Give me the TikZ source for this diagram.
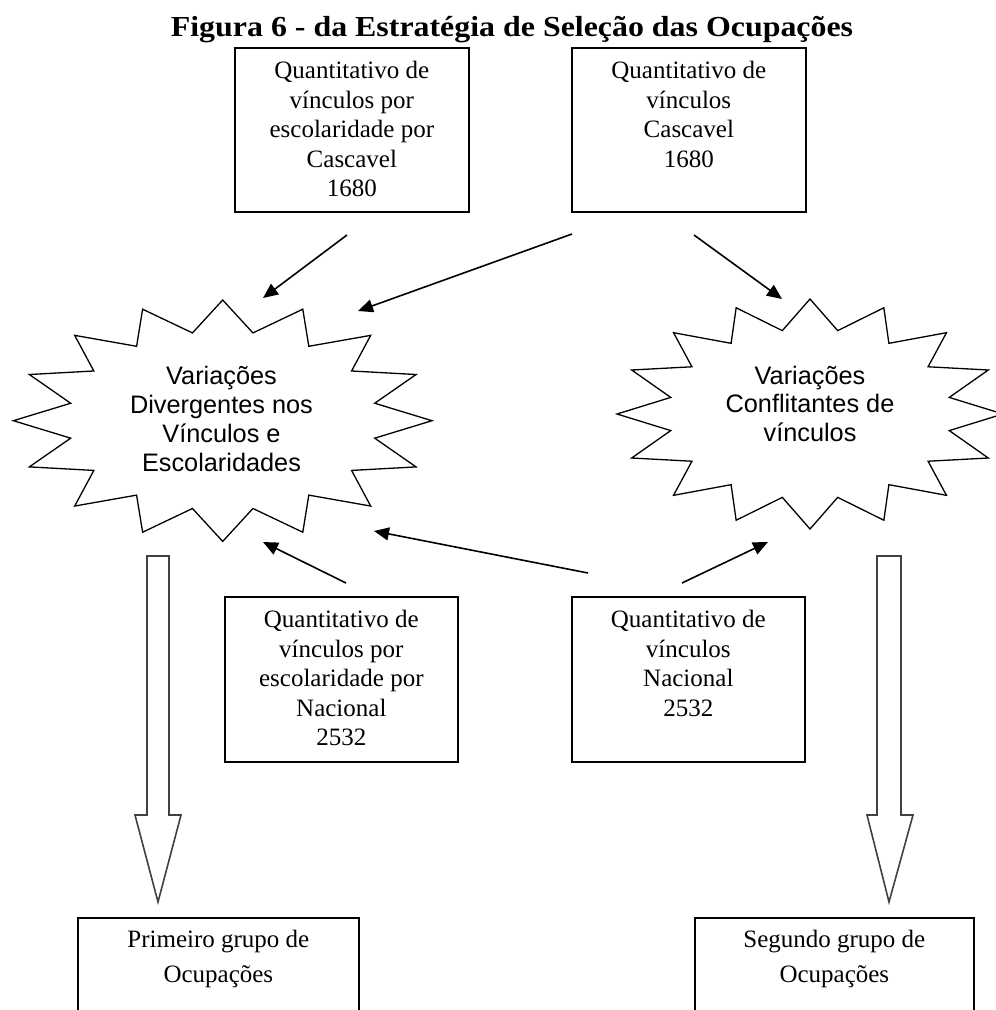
\documentclass[tikz,border=0pt]{standalone}
\usepackage{fontspec}
\usepackage{graphicx}
\setmainfont{Liberation Serif}
\newfontfamily\starfont{Liberation Sans}
\usetikzlibrary{arrows.meta}

\begin{document}
\begin{tikzpicture}[x=1pt,y=-1pt,
  frame/.style={draw, line width=1.7pt, inner sep=0pt, anchor=north west},
  boxtext/.style={anchor=north, align=center, inner sep=0pt, font=\fontsize{25}{29.5}\selectfont},
  grouptext/.style={anchor=north, align=center, inner sep=0pt, font=\fontsize{25}{35}\selectfont},
  startext/.style={anchor=north, align=center, inner sep=0pt, font=\starfont\fontsize{25.3}{28.9}\selectfont},
  starline/.style={line width=1.3pt, line join=miter},
  link/.style={line width=1.6pt, -{Triangle[length=15pt,width=13pt]}},
  hollow/.style={draw=black!75, line width=1.6pt, line join=miter}]

\useasboundingbox (0,0) rectangle (996,1010);
\clip (0,0) rectangle (996,1010);

% title
\node[anchor=base, inner sep=0pt, font=\bfseries\fontsize{29}{35}\selectfont] (title) at (512,36)
  {\scalebox{1.1}[1]{Figura 6 - da Estratégia de Seleção das Ocupações}};

% source boxes
\node[frame, minimum width=234pt, minimum height=164pt] (b1) at (234,47) {};
\node[boxtext] (b1t) at ([yshift=-14pt]b1.north) {Quantitativo de\\vínculos por\\escolaridade por\\Cascavel\\1680};
\node[frame, minimum width=234pt, minimum height=164pt] (b2) at (571,47) {};
\node[boxtext] (b2t) at ([yshift=-14pt]b2.north) {Quantitativo de\\vínculos\\Cascavel\\1680};
\node[frame, minimum width=233pt, minimum height=165pt] (b3) at (224,596) {};
\node[boxtext] (b3t) at ([yshift=-14pt]b3.north) {Quantitativo de\\vínculos por\\escolaridade por\\Nacional\\2532};
\node[frame, minimum width=233pt, minimum height=165pt] (b4) at (571,596) {};
\node[boxtext] (b4t) at ([yshift=-14pt]b4.north) {Quantitativo de\\vínculos\\Nacional\\2532};

% result boxes (open at the bottom edge)
\node[frame, minimum width=281pt, minimum height=130pt] (g1) at (77,917) {};
\node[grouptext] (g1t) at ([yshift=-13pt]g1.north) {Primeiro grupo de\\Ocupações};
\node[frame, minimum width=279pt, minimum height=130pt] (g2) at (694,917) {};
\node[grouptext] (g2t) at ([yshift=-13pt]g2.north) {Segundo grupo de\\Ocupações};

% 16-point starbursts
\draw[starline] plot[variable=\k, samples at={0,...,31}]
  ({222.7 + (209.3 - 54.3*mod(\k,2))*cos(90+11.25*\k)},
   {420.7 - (120.7 - 31.2*mod(\k,2))*sin(90+11.25*\k)}) -- cycle;
\node[startext] (s1) at (221.5,366) {Variações\\Divergentes nos\\Vínculos e\\Escolaridades};

\draw[starline] plot[variable=\k, samples at={0,...,31}]
  ({810 + (193 - 51*mod(\k,2))*cos(90+11.25*\k)},
   {414 - (115 - 30*mod(\k,2))*sin(90+11.25*\k)}) -- cycle;
\node[startext] (s2) at (810,365.5) {Variações\\Conflitantes de\\vínculos};

% connector end points
\coordinate (a1s) at (347,235);  \coordinate (a1e) at (263,298);
\coordinate (a2s) at (572,234);  \coordinate (a2e) at (358,311);
\coordinate (a3s) at (694,235);  \coordinate (a3e) at (782,299);
\coordinate (a4s) at (346,583);  \coordinate (a4e) at (263,542);
\coordinate (a5s) at (588,573);  \coordinate (a5e) at (374,531);
\coordinate (a6s) at (682,583);  \coordinate (a6e) at (768,542);

\draw[link] (a1s) -- (a1e);
\draw[link] (a2s) -- (a2e);
\draw[link] (a3s) -- (a3e);
\draw[link] (a4s) -- (a4e);
\draw[link] (a5s) -- (a5e);
\draw[link] (a6s) -- (a6e);

% hollow block arrows down to the result boxes
\draw[hollow] (147,556) -- (169,556) -- (169,815) -- (181,815) -- (158,902)
  -- (135,815) -- (147,815) -- cycle;
\draw[hollow] (877,556) -- (901,556) -- (901,815) -- (913,815) -- (889,902)
  -- (867,815) -- (877,815) -- cycle;
\end{tikzpicture}
\end{document}
